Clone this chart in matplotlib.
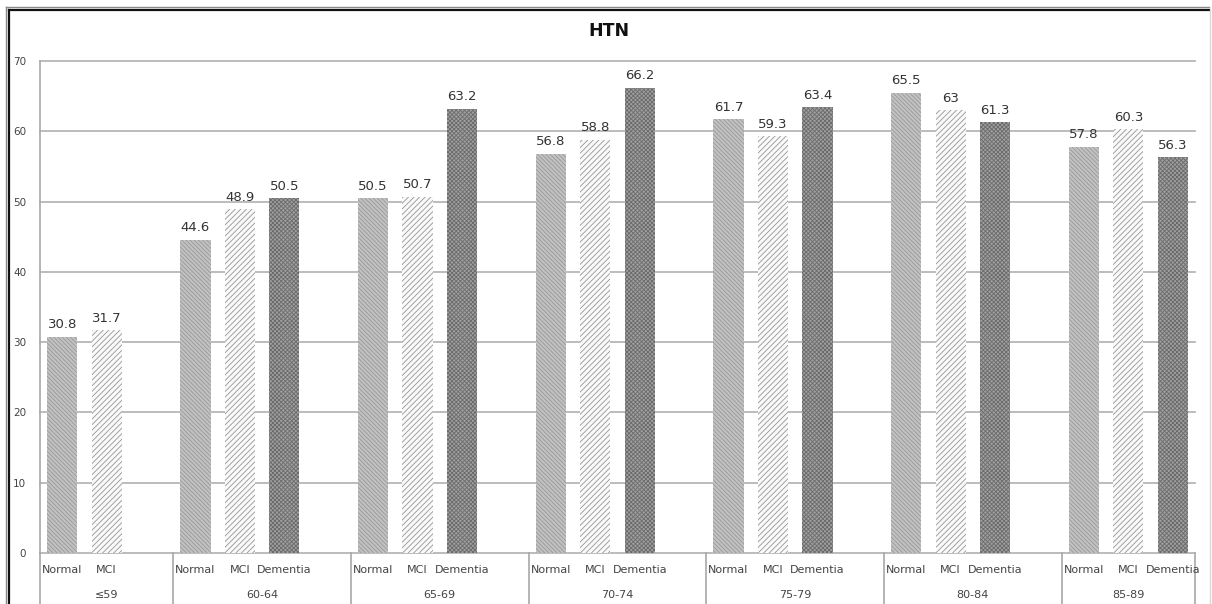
import matplotlib
matplotlib.use("Agg")
import matplotlib.pyplot as plt
from matplotlib.lines import Line2D
import matplotlib.transforms as mtransforms

# Age groups and diagnosis categories
age_groups = ["≤59", "60-64", "65-69", "70-74", "75-79", "80-84", "85-89"]
series_names = ["Normal", "MCI", "Dementia"]

# Hypertension prevalence (%) per diagnosis in each age group (None = no data)
normal = [30.8, 44.6, 50.5, 56.8, 61.7, 65.5, 57.8]
mci = [31.7, 48.9, 50.7, 58.8, 59.3, 63.0, 60.3]
dementia = [None, 50.5, 63.2, 66.2, 63.4, 61.3, 56.3]

yticks = [0, 10, 20, 30, 40, 50, 60, 70]

plt.rcParams["hatch.linewidth"] = 0.6

fig = plt.figure(figsize=(12.12, 6.04), dpi=100)
W, H = 1212, 604
ax = fig.add_axes([40 / W, 1 - 553 / H, (1195 - 40) / W, (553 - 61) / H])

styles = {
    "Normal": dict(facecolor="#c2c2c2", edgecolor="#989898", hatch="\\" * 8),
    "MCI": dict(facecolor="#fafafa", edgecolor="#959595", hatch="/" * 6),
    "Dementia": dict(facecolor="#a0a0a0", edgecolor="#6a6a6a", hatch="x" * 8),
}

values = {"Normal": normal, "MCI": mci, "Dementia": dementia}

# Build category slots: each group holds its present series, followed by a blank slot
pos = 0
group_bounds = []
cat_positions = []
cat_labels = []
for gi, g in enumerate(age_groups):
    start = pos
    for s in series_names:
        v = values[s][gi]
        if v is None:
            continue
        ax.bar(pos, v, width=0.68, linewidth=0, zorder=3, **styles[s])
        ax.annotate(f"{v:g}", (pos, v), xytext=(0, 4), textcoords="offset points",
                    ha="center", va="bottom", fontsize=9.5, color="#333333", zorder=4)
        cat_positions.append(pos)
        cat_labels.append(s)
        pos += 1
    if gi < len(age_groups) - 1:
        pos += 1
    group_bounds.append((start - 0.5, pos - 0.5))

ax.set_xlim(-0.5, pos - 0.5)
ax.set_ylim(0, 70)
ax.set_yticks(yticks)
ax.set_yticklabels([str(t) for t in yticks], fontsize=7.5, color="#444444")
ax.tick_params(axis="y", length=0, pad=10)
ax.set_xticks([])
for side in ["top", "right", "bottom"]:
    ax.spines[side].set_visible(False)
ax.spines["left"].set_color("#a8a8a8")
ax.spines["left"].set_linewidth(1.2)
for t in yticks:
    ax.axhline(t, color="#b0b0b0", linewidth=1.2, zorder=1, clip_on=False)

trans = mtransforms.blended_transform_factory(ax.transData, ax.transAxes)
ax_h = 553 - 61
for x, lab in zip(cat_positions, cat_labels):
    ax.text(x, -17 / ax_h, lab, transform=trans, ha="center", va="center",
            fontsize=8, color="#444444")
edges = sorted(set([b for bounds in group_bounds for b in bounds]))
for e in edges:
    ax.add_line(Line2D([e, e], [0, -52 / ax_h], transform=trans, color="#a8a8a8",
                       linewidth=1.2, clip_on=False))
for g, (a, b) in zip(age_groups, group_bounds):
    ax.text((a + b) / 2, -42 / ax_h, g, transform=trans, ha="center", va="center",
            fontsize=8, color="#444444")

fig.text(609 / W, 1 - 31 / H, "HTN", ha="center", va="center", fontsize=12.5,
         fontweight="bold", color="#111111")

# Chart frame: thin gray outer line with a dark inner line
fig.add_artist(Line2D([5.5 / W, 5.5 / W], [0, 1 - 6.5 / H], color="#888888", linewidth=1))
fig.add_artist(Line2D([5.5 / W, 1209 / W], [1 - 6.5 / H, 1 - 6.5 / H], color="#888888", linewidth=1))
fig.add_artist(Line2D([8.8 / W, 8.8 / W], [0, 1 - 9.8 / H], color="#111111", linewidth=1.6))
fig.add_artist(Line2D([8.8 / W, 1209 / W], [1 - 9.8 / H, 1 - 9.8 / H], color="#111111", linewidth=1.6))
fig.add_artist(Line2D([1209.5 / W, 1209.5 / W], [0, 1 - 9.8 / H], color="#d8d8d8", linewidth=1))

fig.savefig("out.png", dpi=100)
